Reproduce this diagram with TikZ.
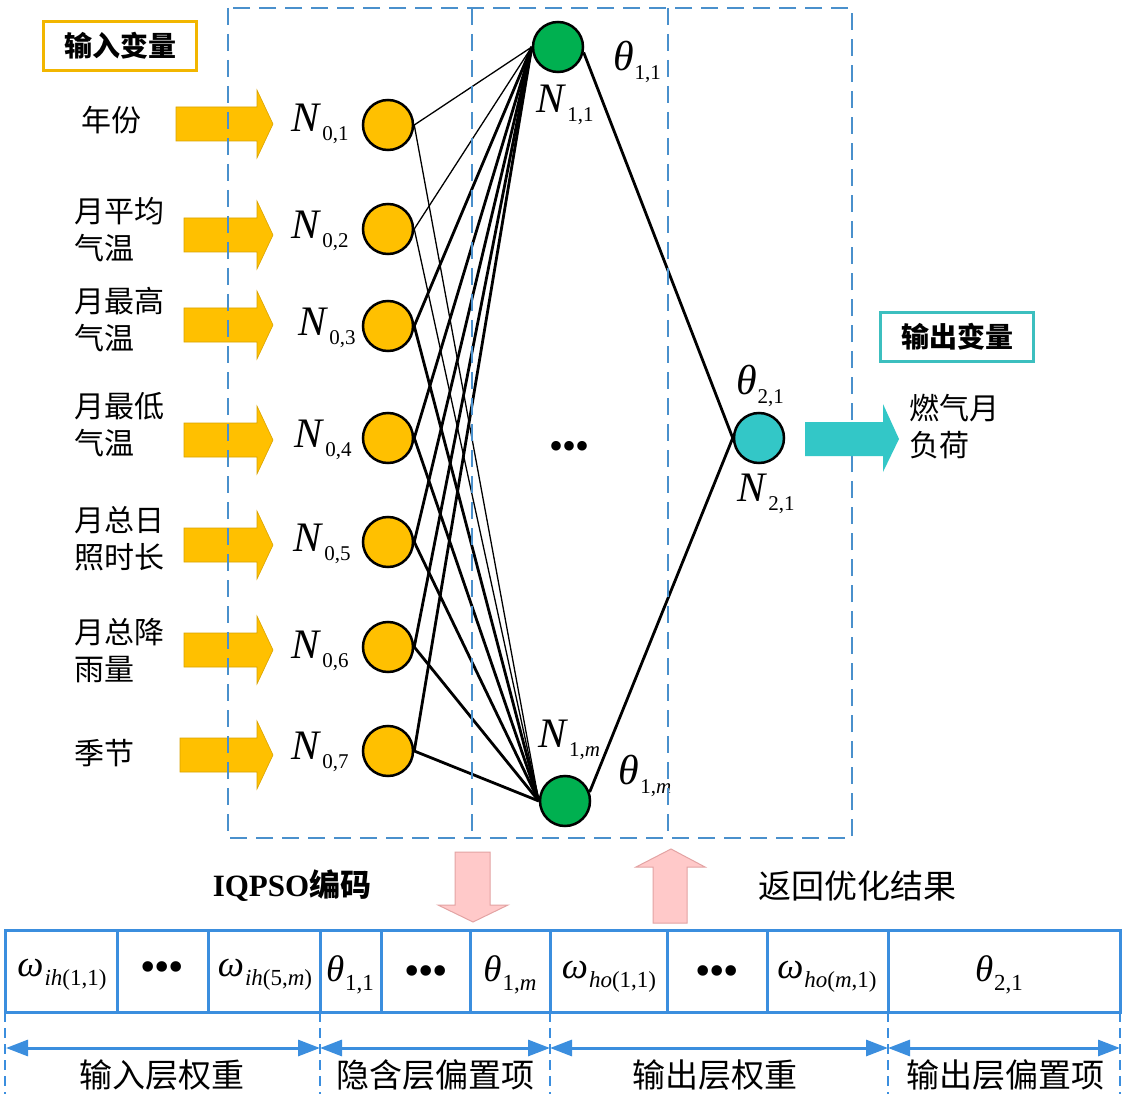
\documentclass[tikz,border=0pt]{standalone}
\usepackage{fontspec}
\setmainfont{Liberation Serif}
\newfontfamily\cjk{Noto Sans CJK SC}
\usetikzlibrary{arrows.meta}
\definecolor{dblue}{HTML}{4A90CC}
\definecolor{tblue}{HTML}{3B8EDE}
\definecolor{orng}{HTML}{FFC000}
\definecolor{orngd}{HTML}{D9A300}
\definecolor{grn}{HTML}{00B050}
\definecolor{cyn}{HTML}{33C7C7}
\definecolor{pinkc}{HTML}{FFC9C9}
\definecolor{pinkd}{HTML}{E3A3A3}
\definecolor{gold}{HTML}{F2B600}
\definecolor{tealc}{HTML}{3CBFBF}
\newcommand\bigL[2]{{\fontsize{42}{42}\selectfont\textit{#1}}\kern1pt\raisebox{-9pt}{\fontsize{21}{21}\selectfont #2}}
\newcommand\tabL[2]{{\fontsize{37}{37}\selectfont\textit{#1}}\kern1pt\raisebox{-9pt}{\fontsize{23}{23}\selectfont #2}}
\newcommand\tdots{{\fontsize{44}{44}\selectfont\textbullet\kern-1.5pt\textbullet\kern-1.5pt\textbullet}}
\begin{document}
\begin{tikzpicture}[x=1pt,y=-1pt,
  neuron/.style={circle, draw=black, line width=2.5pt, minimum size=50pt, inner sep=0pt},
  inN/.style={neuron, fill=orng},
  hidN/.style={neuron, fill=grn},
  outN/.style={neuron, fill=cyn},
  cjklbl/.style={font=\fontsize{30}{37}\selectfont\cjk, align=left, anchor=west, inner sep=0pt},
  mlbl/.style={inner sep=0pt},
  tlbl/.style={inner sep=0pt},
  dots/.style={inner sep=0pt},
  wthin/.style={line width=1.3pt},
  wthick/.style={line width=2.8pt},
  dashbox/.style={draw=dblue, line width=2.3pt, dash pattern=on 17pt off 9pt},
  tline/.style={draw=tblue, line width=3pt},
  tdash/.style={draw=tblue, line width=2.5pt, dash pattern=on 10pt off 6pt},
  varbox/.style={draw, line width=3.5pt, fill=white, minimum width=153pt, minimum height=49pt, font=\fontsize{28}{30}\selectfont\cjk\bfseries},
  botlbl/.style={font=\fontsize{33}{36}\selectfont\cjk, inner sep=0pt},
  dblarr/.style={tline, {Triangle[length=22pt,width=16pt]}-{Triangle[length=22pt,width=16pt]}}
]
\useasboundingbox (0,0) rectangle (1128,1094);
\fill[white] (0,0) rectangle (1128,1094);

% variable boxes
\node[varbox, draw=gold] (inbox) at (120,46) {输入变量};
\node[varbox, draw=tealc] (outbox) at (957,337) {输出变量};

% input arrows
\foreach \xa/\ya in {176/124, 184/235, 184/325, 184/440, 184/545, 184/650, 180/755}{
  \filldraw[fill=orng, draw=orngd, line width=0.6pt] (\xa,\ya-17) -- (257,\ya-17) -- (257,\ya-34) -- (273,\ya) -- (257,\ya+34) -- (257,\ya+17) -- (\xa,\ya+17) -- cycle;
}

% input labels
\node[cjklbl] (v1) at (81,120) {年份};
\node[cjklbl] (v2) at (74,230) {月平均\\气温};
\node[cjklbl] (v3) at (74,320) {月最高\\气温};
\node[cjklbl] (v4) at (74,425) {月最低\\气温};
\node[cjklbl] (v5) at (74,539) {月总日\\照时长};
\node[cjklbl] (v6) at (74,651) {月总降\\雨量};
\node[cjklbl] (v7) at (74,753) {季节};

% input neurons
\node[inN] (i1) at (388,125) {};
\node[inN] (i2) at (388,229) {};
\node[inN] (i3) at (388,326) {};
\node[inN] (i4) at (388,438) {};
\node[inN] (i5) at (388,542) {};
\node[inN] (i6) at (388,647) {};
\node[inN] (i7) at (388,751) {};

\node[mlbl] (n1) at (320,124) {\bigL{N}{0,1}};
\node[mlbl] (n2) at (320,231) {\bigL{N}{0,2}};
\node[mlbl] (n3) at (327,328) {\bigL{N}{0,3}};
\node[mlbl] (n4) at (323,440) {\bigL{N}{0,4}};
\node[mlbl] (n5) at (322,544) {\bigL{N}{0,5}};
\node[mlbl] (n6) at (320,651) {\bigL{N}{0,6}};
\node[mlbl] (n7) at (320,752) {\bigL{N}{0,7}};

% hidden and output neurons
\node[hidN] (h1) at (558,47) {};
\node[hidN] (hm) at (565,801) {};
\node[outN] (o) at (759,438) {};

\node[mlbl] (lh1) at (565,105) {\bigL{N}{1,1}};
\node[mlbl] (lhm) at (569,740) {\bigL{N}{1,\textit{m}}};
\node[mlbl] (lo) at (766,494) {\bigL{N}{2,1}};
\node[mlbl] (t11) at (637,62) {\bigL{θ}{1,1}};
\node[mlbl] (t1m) at (645,776) {\bigL{θ}{1,\textit{m}}};
\node[mlbl] (t21) at (760,386) {\bigL{θ}{2,1}};

\node[font=\fontsize{40}{40}\selectfont, inner sep=0pt] (mid) at (570,450) {\textbullet\kern-1pt\textbullet\kern-1pt\textbullet};

% connections
\foreach \i in {1,2}{
  \draw[wthin] (i\i.east) -- (h1.west);
  \draw[wthin] (i\i.east) -- (hm.west);
}
\foreach \i in {3,...,7}{
  \draw[wthick] (i\i.east) -- (h1.west);
  \draw[wthick] (i\i.east) -- (hm.west);
}
\draw[wthick] (h1.-12) -- (o.west);
\draw[wthick] (hm.20) -- (o.west);

% dashed frame (on top of the connectors)
\draw[dashbox] (228,8) rectangle (852,838);
\draw[dashbox] (472,8) -- (472,838);
\draw[dashbox] (668,8) -- (668,838);

% output arrow
\fill[cyn] (805,422) -- (883,422) -- (883,404) -- (899,439) -- (883,472) -- (883,456) -- (805,456) -- cycle;
\node[cjklbl] (out) at (909,427) {燃气月\\负荷};

% pink arrows
\filldraw[fill=pinkc, draw=pinkd, line width=1pt] (455,852) -- (490,852) -- (490,905) -- (508,905) -- (473,922) -- (438,905) -- (455,905) -- cycle;
\filldraw[fill=pinkc, draw=pinkd, line width=1pt] (653,923) -- (687,923) -- (687,867) -- (705,867) -- (671,849) -- (636,867) -- (653,867) -- cycle;

\node[font=\fontsize{31}{36}\selectfont\bfseries, inner sep=0pt] (enc) at (292,886) {IQPSO{\cjk\bfseries 编码}};
\node[botlbl] (ret) at (857,886) {返回优化结果};

% encoding table
\draw[tline] (5,930) rectangle (1120,1012);
\foreach \x in {117,208,320,381,470,550,667,767,888}{
  \draw[tline] (\x,930) -- (\x,1012);
}
\node[tlbl] (c1) at (62,975) {\tabL{ω}{\textit{ih}(1,1)}};
\node[dots] (c2) at (162,972) {\tdots};
\node[tlbl] (c3) at (265,975) {\tabL{ω}{\textit{ih}(5,\textit{m})}};
\node[tlbl] (c4) at (350,975) {\tabL{θ}{1,1}};
\node[dots] (c5) at (426,976) {\tdots};
\node[tlbl] (c6) at (510,975) {\tabL{θ}{1,\textit{m}}};
\node[tlbl] (c7) at (609,977) {\tabL{ω}{\textit{ho}(1,1)}};
\node[dots] (c8) at (717,976) {\tdots};
\node[tlbl] (c9) at (827,977) {\tabL{ω}{\textit{ho}(\textit{m},1)}};
\node[tlbl] (c10) at (999,975) {\tabL{θ}{2,1}};

% segment markers
\foreach \x in {5,320,550,888,1120}{
  \draw[tdash] (\x,1012) -- (\x,1094);
}
\coordinate (b0) at (6,1048);
\coordinate (b1) at (320,1048);
\coordinate (b2) at (550,1048);
\coordinate (b3) at (888,1048);
\coordinate (b4) at (1120,1048);
\draw[dblarr] (b0) -- (b1);
\draw[dblarr] (b1) -- (b2);
\draw[dblarr] (b2) -- (b3);
\draw[dblarr] (b3) -- (b4);

\node[botlbl] (s1) at (162,1075) {输入层权重};
\node[botlbl] (s2) at (435,1075) {隐含层偏置项};
\node[botlbl] (s3) at (715,1075) {输出层权重};
\node[botlbl] (s4) at (1005,1075) {输出层偏置项};
\end{tikzpicture}
\end{document}
